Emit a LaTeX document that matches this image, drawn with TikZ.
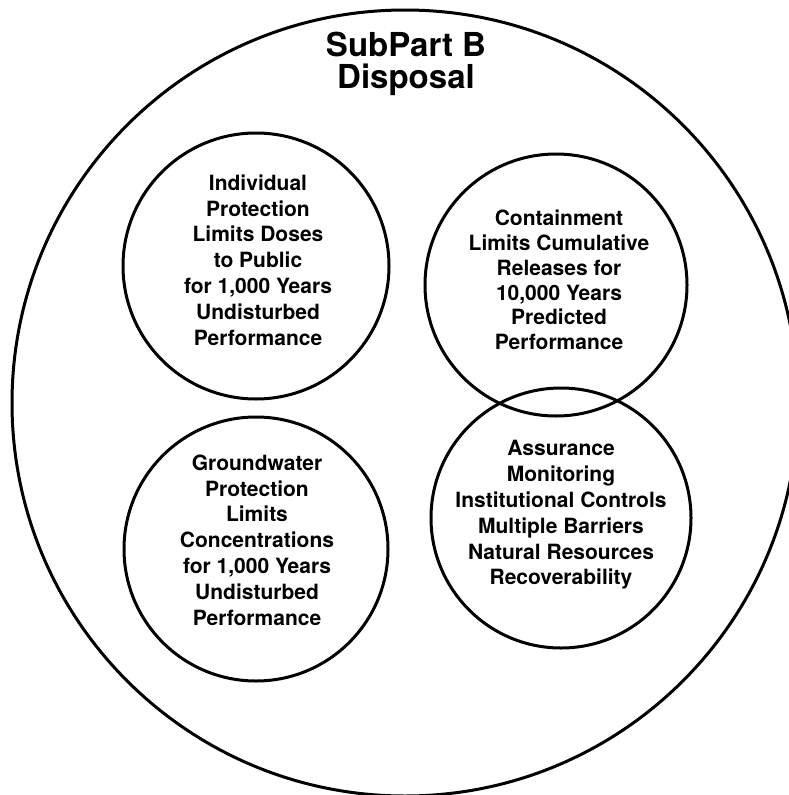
\documentclass[tikz,border=0pt]{standalone}
\usepackage{fontspec}
\setmainfont{TeX Gyre Heros}
\begin{document}
\begin{tikzpicture}[x=1pt,y=-1pt,
  ring/.style={draw, circle, line width=3pt, inner sep=0pt},
  body/.style={align=center, font=\fontsize{21}{25.8}\selectfont\bfseries, inner sep=0pt},
  head/.style={align=center, font=\fontsize{33}{32}\selectfont\bfseries, inner sep=0pt}]
  \useasboundingbox (0,0) rectangle (789,795);
  % the outer ring runs past the right edge of the page
  \begin{scope}
    \clip (0,0) rectangle (789,795);
    \node[ring, minimum size=786pt] (outer) at (405,403) {};
  \end{scope}
  \node[head] (title) at (406,64) {SubPart B\\Disposal};

  \node[ring, minimum size=266pt] (indiv) at (256,266) {};
  \node[ring, minimum size=262pt] (contain) at (556,285) {};
  \node[ring, minimum size=264pt] (ground) at (256,549) {};
  \node[ring, minimum size=260pt] (assure) at (561,518) {};

  \node[body] (indivtext) at (258,260) {Individual\\Protection\\Limits Doses\\to Public\\for 1,000 Years\\Undisturbed\\Performance};
  \node[body, font=\fontsize{21}{24.8}\selectfont\bfseries] (containtext) at (559,280) {Containment\\Limits Cumulative\\Releases for\\10,000 Years\\Predicted\\Performance};
  \node[body] (groundtext) at (257,540) {Groundwater\\Protection\\Limits\\Concentrations\\for 1,000 Years\\Undisturbed\\Performance};
  \node[body] (assuretext) at (561,515) {Assurance\\Monitoring\\Institutional Controls\\Multiple Barriers\\Natural Resources\\Recoverability};
\end{tikzpicture}
\end{document}
